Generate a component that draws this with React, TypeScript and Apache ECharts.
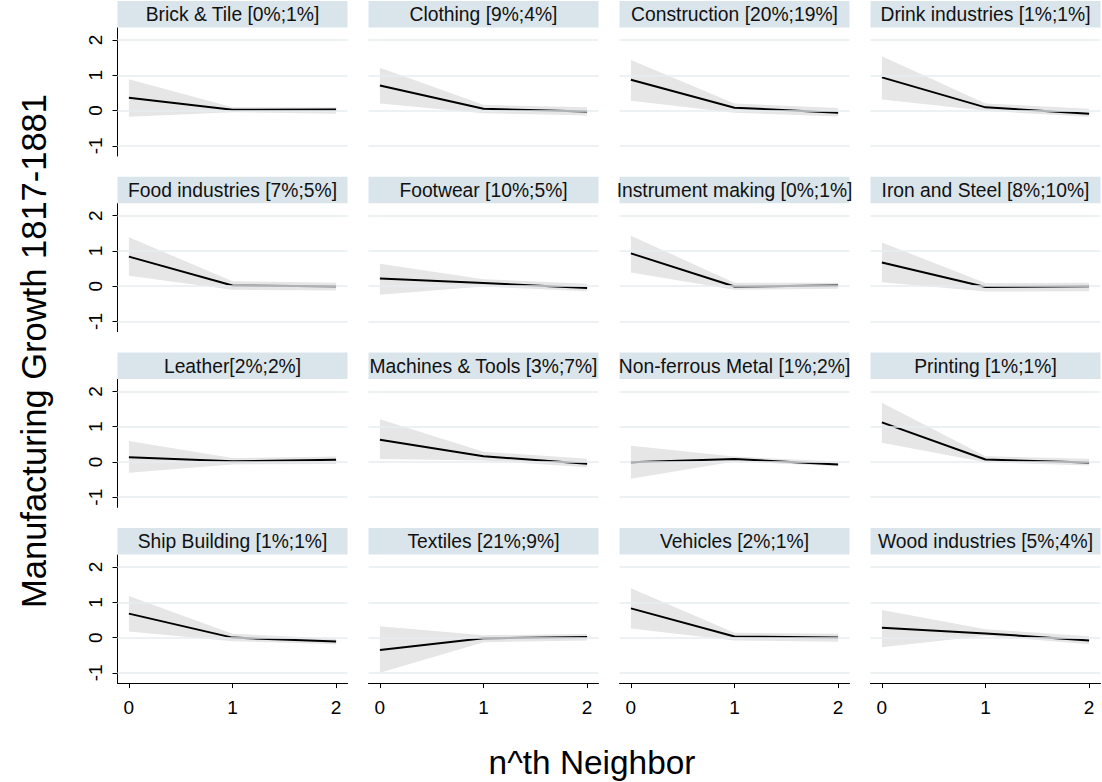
import React, { useEffect, useRef } from 'react';
import * as echarts from 'echarts';

const neighbors = [0, 1, 2];
const yTicks = [-1, 0, 1, 2];

const panelTitles = [
  'Brick & Tile [0%;1%]',
  'Clothing [9%;4%]',
  'Construction [20%;19%]',
  'Drink industries [1%;1%]',
  'Food industries [7%;5%]',
  'Footwear [10%;5%]',
  'Instrument making [0%;1%]',
  'Iron and Steel [8%;10%]',
  'Leather[2%;2%]',
  'Machines & Tools [3%;7%]',
  'Non-ferrous Metal [1%;2%]',
  'Printing [1%;1%]',
  'Ship Building [1%;1%]',
  'Textiles [21%;9%]',
  'Vehicles [2%;1%]',
  'Wood industries [5%;4%]',
];

const meanValues = [
  [0.36, 0.02, 0.03],
  [0.71, 0.05, -0.03],
  [0.87, 0.08, -0.06],
  [0.94, 0.09, -0.09],
  [0.84, 0.02, 0.0],
  [0.22, 0.09, -0.05],
  [0.93, -0.01, 0.02],
  [0.67, -0.02, 0.0],
  [0.13, 0.02, 0.06],
  [0.63, 0.16, -0.05],
  [-0.01, 0.08, -0.07],
  [1.12, 0.07, -0.02],
  [0.68, 0.0, -0.11],
  [-0.35, -0.02, 0.02],
  [0.83, 0.03, 0.0],
  [0.28, 0.12, -0.08],
];

const upperValues = [
  [0.89, 0.09, 0.09],
  [1.21, 0.16, 0.09],
  [1.43, 0.2, 0.07],
  [1.54, 0.2, 0.05],
  [1.39, 0.14, 0.1],
  [0.64, 0.2, 0.07],
  [1.43, 0.1, 0.1],
  [1.24, 0.09, 0.1],
  [0.59, 0.11, 0.15],
  [1.21, 0.29, 0.09],
  [0.46, 0.15, 0.01],
  [1.68, 0.16, 0.09],
  [1.18, 0.11, -0.03],
  [0.32, 0.07, 0.1],
  [1.4, 0.14, 0.11],
  [0.78, 0.24, 0.04],
];

const lowerValues = [
  [-0.18, -0.05, -0.09],
  [0.2, -0.08, -0.14],
  [0.28, -0.06, -0.17],
  [0.31, -0.01, -0.18],
  [0.3, -0.1, -0.12],
  [-0.24, -0.01, -0.14],
  [0.39, -0.1, -0.07],
  [0.11, -0.15, -0.14],
  [-0.31, -0.07, -0.06],
  [0.08, 0.04, -0.15],
  [-0.48, 0.01, -0.12],
  [0.54, -0.01, -0.1],
  [0.17, -0.1, -0.19],
  [-1.0, -0.13, -0.08],
  [0.26, -0.08, -0.12],
  [-0.27, 0.05, -0.19],
];

const yAxisTitle = 'Manufacturing Growth 1817-1881';
const xAxisTitle = 'n^th Neighbor';

const FONT = '"Liberation Sans", Arial, sans-serif';

export default function App() {
  const ref = useRef<HTMLDivElement>(null);

  useEffect(() => {
    const chart = echarts.init(ref.current as HTMLDivElement, null, { renderer: 'svg' });

    const COL_LEFT = 117.5;
    const COL_STEP = 251;
    const W = 230;
    const ROW_TOP = 1;
    const ROW_STEP = 175.7;
    const HEAD_H = 26.5;
    const PLOT_H = 128;

    const grids: any[] = [];
    const xAxes: any[] = [];
    const yAxes: any[] = [];
    const series: any[] = [];
    const graphics: any[] = [];

    panelTitles.forEach((title, i) => {
      const r = Math.floor(i / 4);
      const c = i % 4;
      const left = COL_LEFT + c * COL_STEP;
      const headTop = ROW_TOP + r * ROW_STEP;
      const plotTop = headTop + HEAD_H + 0.5;
      const isBottom = r === 3;
      const isLeft = c === 0;

      grids.push({ left, top: plotTop, width: W, height: PLOT_H });

      xAxes.push({
        type: 'value',
        gridIndex: i,
        position: 'bottom',
        min: -0.11,
        max: 2.11,
        axisLine: { show: isBottom, onZero: false, lineStyle: { color: '#000', width: 1 } },
        axisTick: { show: isBottom, customValues: neighbors, length: 5, lineStyle: { color: '#000' } },
        axisLabel: {
          show: isBottom,
          customValues: neighbors,
          fontSize: 19,
          color: '#000',
          fontFamily: FONT,
          margin: 15,
        },
        splitLine: { show: false },
      });

      yAxes.push({
        type: 'value',
        gridIndex: i,
        position: 'left',
        min: -1.29,
        max: 2.34,
        axisLine: { show: isLeft, onZero: false, lineStyle: { color: '#000', width: 1 } },
        axisTick: { show: isLeft, customValues: yTicks, length: 5, lineStyle: { color: '#000' } },
        axisLabel: {
          show: isLeft,
          customValues: yTicks,
          rotate: 90,
          fontSize: 19,
          color: '#000',
          fontFamily: FONT,
          margin: 13,
        },
        splitLine: { show: false },
      });

      const lower = lowerValues[i];
      const upper = upperValues[i];
      const mean = meanValues[i];

      // grid lines at the y ticks
      series.push({
        type: 'line',
        xAxisIndex: i,
        yAxisIndex: i,
        data: neighbors.map((x, j) => [x, mean[j]]),
        symbol: 'none',
        lineStyle: { opacity: 0 },
        silent: true,
        z: 1,
        markLine: {
          silent: true,
          symbol: ['none', 'none'],
          label: { show: false },
          lineStyle: { color: '#e6eef1', width: 1.5, type: 'solid' },
          emphasis: { disabled: true },
          data: yTicks.map((v) => ({ yAxis: v })),
        },
      });

      // confidence band
      series.push({
        type: 'custom',
        xAxisIndex: i,
        yAxisIndex: i,
        data: neighbors.map((x, j) => [x, lower[j], upper[j]]),
        silent: true,
        z: 2,
        renderItem: (params: any, api: any) => {
          if (params.dataIndex !== 0) return null;
          const top = neighbors.map((x, j) => api.coord([x, upper[j]]));
          const bottom = neighbors.map((x, j) => api.coord([x, lower[j]])).reverse();
          return {
            type: 'polygon',
            shape: { points: top.concat(bottom) },
            style: { fill: '#e6e6e6', stroke: 'none' },
          };
        },
      });

      // point estimate
      series.push({
        type: 'line',
        xAxisIndex: i,
        yAxisIndex: i,
        data: neighbors.map((x, j) => [x, mean[j]]),
        symbol: 'none',
        lineStyle: { color: '#000', width: 2 },
        silent: true,
        z: 3,
      });

      graphics.push({
        type: 'rect',
        shape: { x: left, y: headTop, width: W, height: HEAD_H },
        style: { fill: '#d9e5eb' },
        silent: true,
      });
      graphics.push({
        type: 'text',
        x: left + W / 2,
        y: headTop + HEAD_H / 2 + 0.5,
        style: {
          text: title,
          fontSize: 19.3,
          fontFamily: FONT,
          fill: '#111',
          align: 'center',
          verticalAlign: 'middle',
        },
        silent: true,
      });
    });

    graphics.push({
      type: 'text',
      x: 34,
      y: 351,
      rotation: Math.PI / 2,
      style: {
        text: yAxisTitle,
        fontSize: 34.5,
        fontFamily: FONT,
        fill: '#000',
        align: 'center',
        verticalAlign: 'middle',
      },
      silent: true,
    });
    graphics.push({
      type: 'text',
      x: 592,
      y: 762,
      style: {
        text: xAxisTitle,
        fontSize: 33.4,
        fontFamily: FONT,
        fill: '#000',
        align: 'center',
        verticalAlign: 'middle',
      },
      silent: true,
    });

    chart.setOption({
      animation: false,
      backgroundColor: '#fff',
      grid: grids,
      xAxis: xAxes,
      yAxis: yAxes,
      series,
      graphic: graphics,
    });

    return () => {
      chart.dispose();
    };
  }, []);

  return (
    <div
      ref={ref}
      style={{ position: 'absolute', left: 0, top: 0, width: 1102, height: 782, background: '#fff' }}
    />
  );
}
